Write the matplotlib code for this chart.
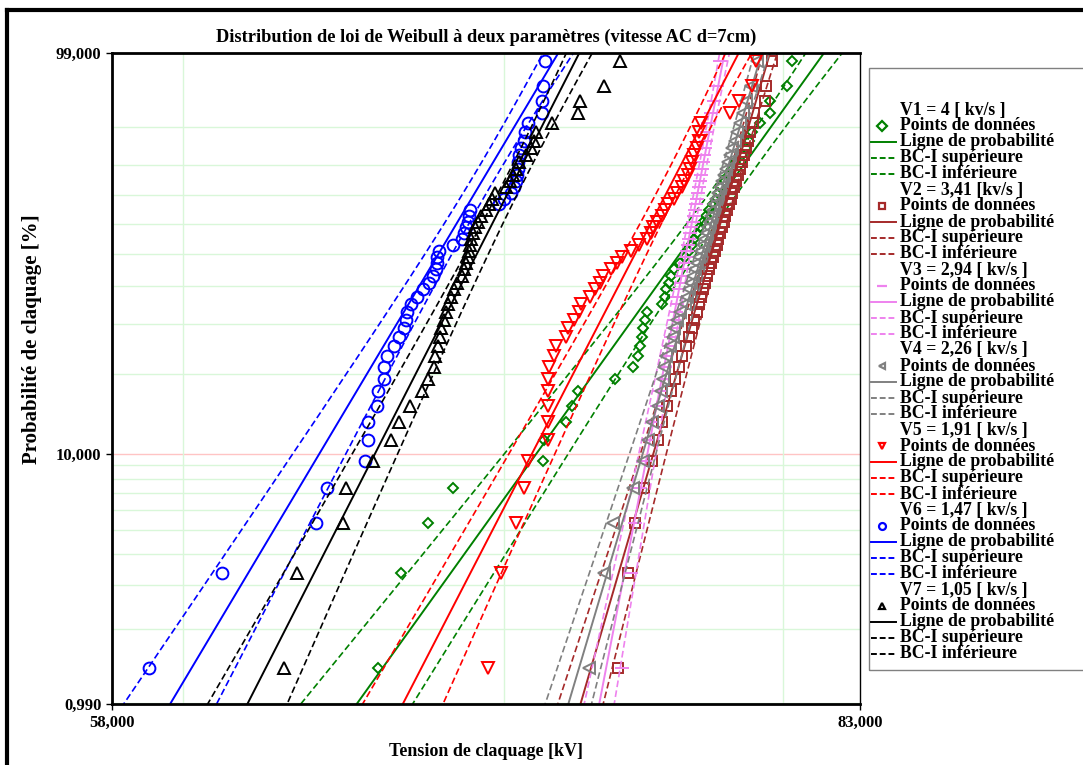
import numpy as np
import matplotlib.pyplot as plt
from matplotlib.lines import Line2D
from matplotlib.patches import Rectangle
from matplotlib.ticker import NullLocator

plt.rcParams['font.family'] = ['Liberation Serif', 'DejaVu Serif']
plt.rcParams['font.weight'] = 'bold'

# Tensions de claquage (kV), 50 essais par vitesse de montee
v1_kv = [65.88, 66.61, 67.48, 68.29, 71.31, 71.35, 72.10, 72.31, 72.52, 73.79,
         74.43, 74.61, 74.69, 74.75, 74.82, 74.86, 74.93, 75.47, 75.58, 75.65,
         75.73, 75.80, 75.94, 76.13, 76.31, 76.46, 76.57, 76.64, 76.75, 76.86,
         76.97, 77.08, 77.19, 77.34, 77.45, 77.53, 77.60, 77.79, 77.94, 78.05,
         78.17, 78.43, 78.58, 78.70, 78.81, 79.11, 79.49, 79.50, 80.14, 80.34]
v2_kv = [73.90, 74.26, 74.51, 74.83, 75.11, 75.33, 75.48, 75.66, 75.81, 75.95,
         76.10, 76.21, 76.36, 76.46, 76.57, 76.65, 76.76, 76.83, 76.90, 76.98,
         77.05, 77.13, 77.20, 77.28, 77.35, 77.43, 77.50, 77.54, 77.61, 77.69,
         77.76, 77.80, 77.88, 77.95, 78.03, 78.06, 78.14, 78.21, 78.29, 78.36,
         78.44, 78.51, 78.59, 78.66, 78.74, 78.85, 78.89, 79.30, 79.34, 79.57]
v3_kv = [74.04, 74.36, 74.50, 74.68, 74.86, 75.00, 75.14, 75.29, 75.40, 75.51,
         75.58, 75.65, 75.73, 75.80, 75.87, 75.91, 75.98, 76.02, 76.05, 76.09,
         76.16, 76.20, 76.24, 76.31, 76.35, 76.38, 76.42, 76.46, 76.49, 76.53,
         76.61, 76.64, 76.68, 76.72, 76.75, 76.79, 76.83, 76.87, 76.90, 76.94,
         76.98, 77.01, 77.05, 77.09, 77.12, 77.16, 77.27, 77.38, 77.49, 77.61]
v4_kv = [72.91, 73.43, 73.72, 74.43, 74.82, 75.00, 75.14, 75.33, 75.44, 75.51,
         75.55, 75.65, 75.76, 75.87, 75.94, 76.05, 76.13, 76.31, 76.38, 76.46,
         76.53, 76.60, 76.68, 76.75, 76.82, 76.90, 76.97, 77.05, 77.12, 77.16,
         77.24, 77.27, 77.35, 77.38, 77.45, 77.53, 77.60, 77.68, 77.75, 77.83,
         77.90, 77.98, 78.05, 78.17, 78.25, 78.35, 78.47, 78.58, 78.77, 79.00]
v5_kv = [69.45, 69.89, 70.39, 70.66, 70.80, 71.46, 71.47, 71.48, 71.48, 71.49,
         71.52, 71.69, 71.76, 72.10, 72.17, 72.38, 72.55, 72.63, 72.92, 73.12,
         73.27, 73.40, 73.68, 73.86, 74.07, 74.39, 74.65, 74.93, 75.08, 75.18,
         75.32, 75.47, 75.58, 75.69, 75.91, 76.02, 76.20, 76.27, 76.42, 76.49,
         76.57, 76.64, 76.75, 76.83, 76.84, 76.90, 77.98, 78.32, 78.81, 78.96]
v6_kv = [59.04, 61.15, 63.97, 64.28, 65.47, 65.56, 65.57, 65.84, 65.87, 66.07,
         66.08, 66.16, 66.38, 66.54, 66.70, 66.77, 66.80, 66.93, 67.12, 67.32,
         67.51, 67.64, 67.74, 67.77, 67.78, 67.84, 68.29, 68.59, 68.66, 68.72,
         68.79, 68.82, 68.86, 69.82, 69.99, 70.22, 70.32, 70.39, 70.43, 70.46,
         70.47, 70.49, 70.56, 70.66, 70.70, 70.80, 71.27, 71.28, 71.29, 71.38]
v7_kv = [62.97, 63.39, 64.78, 64.87, 65.72, 66.29, 66.54, 66.90, 67.28, 67.48,
         67.67, 67.70, 67.80, 67.87, 67.90, 68.00, 68.06, 68.13, 68.23, 68.33,
         68.43, 68.59, 68.66, 68.72, 68.79, 68.82, 68.86, 68.89, 68.95, 69.02,
         69.12, 69.22, 69.38, 69.48, 69.58, 69.69, 70.05, 70.19, 70.29, 70.39,
         70.49, 70.73, 70.90, 71.00, 71.07, 71.62, 72.52, 72.59, 73.43, 74.00]

series_kv = [v1_kv, v2_kv, v3_kv, v4_kv, v5_kv, v6_kv, v7_kv]
series_names = ['V1 = 4 [ kv/s ]', 'V2 = 3,41 [kv/s ]', 'V3 = 2,94 [ kv/s ]',
                'V4 = 2,26 [ kv/s ]', 'V5 = 1,91 [ kv/s ]', 'V6 = 1,47 [ kv/s ]',
                'V7 = 1,05 [ kv/s ]']
colors = ['#008000', '#a52a2a', '#ee82ee', '#808080', '#ff0000', '#0000ff', '#000000']
markers = ['D', 's', '_', '<', 'v', 'o', '^']
marker_sizes = [5.5, 7.5, 10, 8, 8.5, 8.5, 8.5]

# Parametres de Weibull ajustes : echelle eta (kV) et forme beta
eta_kv = [77.16, 77.72, 76.63, 77.38, 75.24, 68.58, 69.74]
beta = [27.41, 67.6, 102.2, 66.2, 38.13, 33.0, 38.59]
z_conf = 1.2816


def weibull_fwd(p):
    p = np.clip(np.asarray(p, dtype=float), 1e-9, 100 - 1e-9) / 100.0
    return np.log(-np.log(1.0 - p))


def weibull_inv(w):
    return 100.0 * (1.0 - np.exp(-np.exp(w)))


W, H = 1083, 765
fig = plt.figure(figsize=(W / 100, H / 100), dpi=100)
ax = fig.add_axes([112 / W, 61 / H, 748 / W, 651 / H])
ax.set_xscale('log')
ax.set_yscale('function', functions=(weibull_fwd, weibull_inv))

# grille
for p in [1, 2, 3, 4, 5, 6, 7, 8, 9, 20, 30, 40, 50, 60, 70, 80, 90]:
    ax.axhline(p, color='#d9f7d9', lw=1, zorder=0)
ax.axhline(10, color='#ffc4c4', lw=1, zorder=0)
for v in [60, 70, 80]:
    ax.axvline(v, color='#d9f7d9', lw=1, zorder=0)

w_line = np.linspace(weibull_fwd(0.3), weibull_fwd(99.9), 400)
p_line = weibull_inv(w_line)

for v, c, m, ms, eta, b in zip(series_kv, colors, markers, marker_sizes, eta_kv, beta):
    t = np.sort(np.array(v))
    n = len(t)
    rank = (np.arange(1, n + 1) - 0.3) / (n + 0.4) * 100

    t_fit = eta * np.exp(w_line / b)
    sd = np.sqrt(1.1087 + 0.6079 * w_line ** 2 - 0.514 * w_line) / (b * np.sqrt(n))

    ax.plot(t_fit, p_line, color=c, lw=1.4)
    ax.plot(t_fit * np.exp(-z_conf * sd), p_line, color=c, lw=1.2, ls=(0, (4, 2)))
    ax.plot(t_fit * np.exp(z_conf * sd), p_line, color=c, lw=1.2, ls=(0, (4, 2)))
    ax.plot(t, rank, ls='none', marker=m, mfc='none', mec=c, ms=ms, mew=1.4)

ax.set_xlim(58, 83)
ax.set_ylim(0.99, 99)

ax.set_xticks([58, 83])
ax.set_xticklabels(['58,000', '83,000'])
ax.set_yticks([0.99, 10, 99])
ax.set_yticklabels(['0,990', '10,000', '99,000'])
ax.xaxis.set_minor_locator(NullLocator())
ax.yaxis.set_minor_locator(NullLocator())
ax.tick_params(direction='out', length=4, width=1, labelsize=12)

for side in ['left', 'bottom', 'top']:
    ax.spines[side].set_linewidth(2)
ax.spines['right'].set_linewidth(1)

ax.set_title('Distribution de loi de Weibull à deux paramètres (vitesse AC d=7cm)',
             fontsize=13.2, fontweight='bold', pad=8)
ax.set_xlabel('Tension de claquage [kV]', fontsize=13, fontweight='bold', labelpad=9)
ax.set_ylabel('Probabilité de claquage [%]', fontsize=15, fontweight='bold')
ax.yaxis.set_label_coords(-0.094, 0.56)

# legende
fig.add_artist(Rectangle((869 / W, 1 - 670 / H), 230 / W, 602 / H, fill=False,
                         edgecolor='#808080', lw=1, transform=fig.transFigure))
row = 0
for name, c, m in zip(series_names, colors, markers):
    entries = [(name, None), ('Points de données', 'marker'),
               ('Ligne de probabilité', '-'), ('BC-I supérieure', '--'),
               ('BC-I inférieure', '--')]
    for label, kind in entries:
        fy = 1 - (110 + 16 * row) / H
        if kind == 'marker':
            fig.add_artist(Line2D([882 / W], [fy], marker=m, ls='none', mfc='none', mec=c,
                                  ms=5 if m != '_' else 7, mew=1.6,
                                  transform=fig.transFigure))
        elif kind is not None:
            fig.add_artist(Line2D([871 / W, 896 / W], [fy, fy], color=c, lw=1.4,
                                  ls='-' if kind == '-' else (0, (3, 1.5)),
                                  transform=fig.transFigure))
        fig.text(900 / W, fy, label, ha='left', va='center', fontsize=12.8,
                 fontweight='bold')
        row += 1

# cadre exterieur
fig.add_artist(Line2D([7 / W, 1], [1 - 10 / H, 1 - 10 / H], color='black', lw=3,
                      transform=fig.transFigure))
fig.add_artist(Line2D([7 / W, 7 / W], [0, 1 - 10 / H], color='black', lw=3,
                      transform=fig.transFigure))

fig.savefig('out.png', dpi=100)
